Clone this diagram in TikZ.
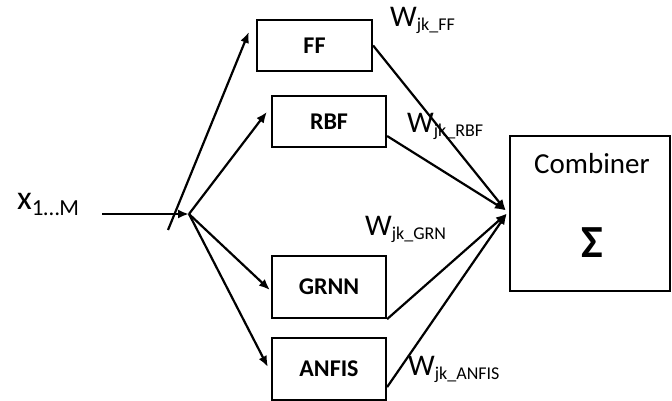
\documentclass[tikz,border=0pt]{standalone}
\usepackage{fontspec}
\setmainfont{Carlito}
\usetikzlibrary{arrows.meta}
\newcommand{\wlab}[1]{{\fontsize{30}{30}\selectfont W}\raisebox{-4pt}{\fontsize{18}{18}\selectfont jk\_#1}}

\begin{document}
\begin{tikzpicture}[x=1pt,y=-1pt,
    model/.style={draw, line width=2.2pt, inner sep=0pt, font=\fontsize{24}{24}\selectfont\bfseries},
    wire/.style={line width=2.2pt, -{Latex[length=11pt,width=9pt]}}]
        \useasboundingbox (0,0) rectangle (672,401);

        % models
        \node[model, minimum width=115pt, minimum height=51pt] (ff) at (314.5,45.5) {FF};
        \node[model, minimum width=114pt, minimum height=51pt] (rbf) at (329,121.5) {RBF};
        \node[model, minimum width=114pt, minimum height=62pt] (grnn) at (329,287) {GRNN};
        \node[model, minimum width=114pt, minimum height=62pt] (anfis) at (329,369) {ANFIS};
        \node[draw, line width=2.2pt, minimum width=160pt, minimum height=155pt] (comb) at (590,213.5) {};
        \node[font=\fontsize{29}{29}\selectfont] (combtxt) at (592,164) {Combiner};
        \node[font=\fontsize{46}{46}\selectfont\bfseries] (sum) at (592,243) {Σ};

        % input
        \node[anchor=base west, inner sep=0pt] (xin) at (17,209) {{\fontsize{34}{34}\selectfont x}\raisebox{-6pt}{\fontsize{23}{23}\selectfont 1…M}};
        \coordinate (xstart) at (102,214);
        \coordinate (split) at (189,214);
        \coordinate (tick) at (168,230);
        \draw[wire] (xstart) -- (split);

        % fan out
        \draw[wire] (tick) -- ([shift={(-7,13)}]ff.north west);
        \draw[wire] (split) -- ([shift={(-4,17)}]rbf.north west);
        \draw[wire] (split) -- ([shift={(-1,3)}]grnn.west);
        \draw[wire] (split) -- ([shift={(-3,-2)}]anfis.west);

        % weights
        \draw[wire] (ff.east) -- ([shift={(-3,-3)}]comb.west);
        \draw[wire] (rbf.east |- 0,136) -- ([shift={(-3,-3)}]comb.west);
        \draw[wire] (grnn.south east) -- ([shift={(-2,0)}]comb.west);
        \draw[wire] ([shift={(0,-14)}]anfis.south east) -- ([shift={(-2,0)}]comb.west);

        \node[anchor=base west, inner sep=0pt] (wff) at (390,27) {\wlab{FF}};
        \node[anchor=base west, inner sep=0pt] (wrbf) at (407,133) {\wlab{RBF}};
        \node[anchor=base west, inner sep=0pt] (wgrn) at (365,235) {\wlab{GRN}};
        \node[anchor=base west, inner sep=0pt] (wanfis) at (408,375) {\wlab{ANFIS}};
\end{tikzpicture}
\end{document}
